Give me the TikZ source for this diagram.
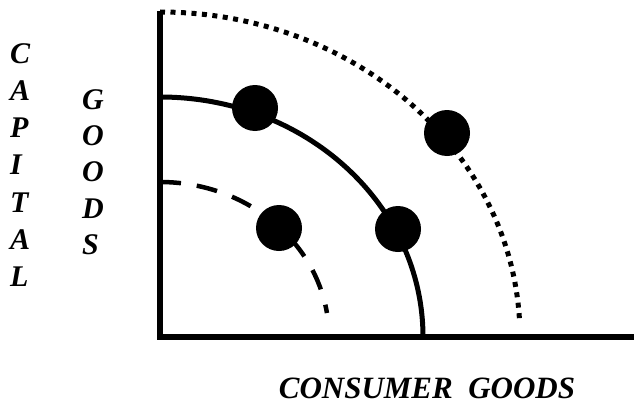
\documentclass[tikz,border=0pt]{standalone}
\usepackage{fontspec}
\setmainfont{Liberation Serif}
\begin{document}
\begin{tikzpicture}[x=1pt,y=1pt,
  axis/.style={line width=6pt},
  ppf/.style={line width=5pt},
  dot/.style={circle,fill=black,inner sep=0pt,minimum size=46pt},
  lbl/.style={font=\fontsize{30}{37.3}\selectfont\bfseries\itshape,align=left,inner sep=0pt}]
\useasboundingbox (0,0) rectangle (634,-404);
% axes
\coordinate (top) at (160,-11);
\coordinate (origin) at (160,-337);
\coordinate (xend) at (634,-337);
\draw[axis] (top) -- (160,-340);
\draw[axis] (157,-337) -- (xend);
% curves (quarter ellipses centred on origin)
\draw[ppf] (160,-97) arc[start angle=90,end angle=0,x radius=263pt,y radius=240pt];
\draw[line width=4.5pt,dash pattern=on 21pt off 16pt] (160,-182) arc[start angle=90,end angle=8.9,x radius=169pt,y radius=155pt];
\draw[line width=5pt,dash pattern=on 5pt off 5.5pt] (160,-12) arc[start angle=90,end angle=2.5,x radius=360pt,y radius=325pt];
% dots
\node[dot] (d1) at (255,-108) {};
\node[dot] (d2) at (398,-229) {};
\node[dot] (d3) at (279,-228) {};
\node[dot] (d4) at (447,-133) {};
% labels
\node[lbl,anchor=west] (cap) at (10,-165) {C\\A\\P\\I\\T\\A\\L};
\node[lbl,anchor=west,font=\fontsize{30}{36.3}\selectfont\bfseries\itshape] (goods) at (82,-172) {G\\O\\O\\D\\S};
\node[font=\fontsize{31}{36}\selectfont\bfseries\itshape,inner sep=0pt] (cons) at (427,-388) {CONSUMER\ \ GOODS};
\end{tikzpicture}
\end{document}
